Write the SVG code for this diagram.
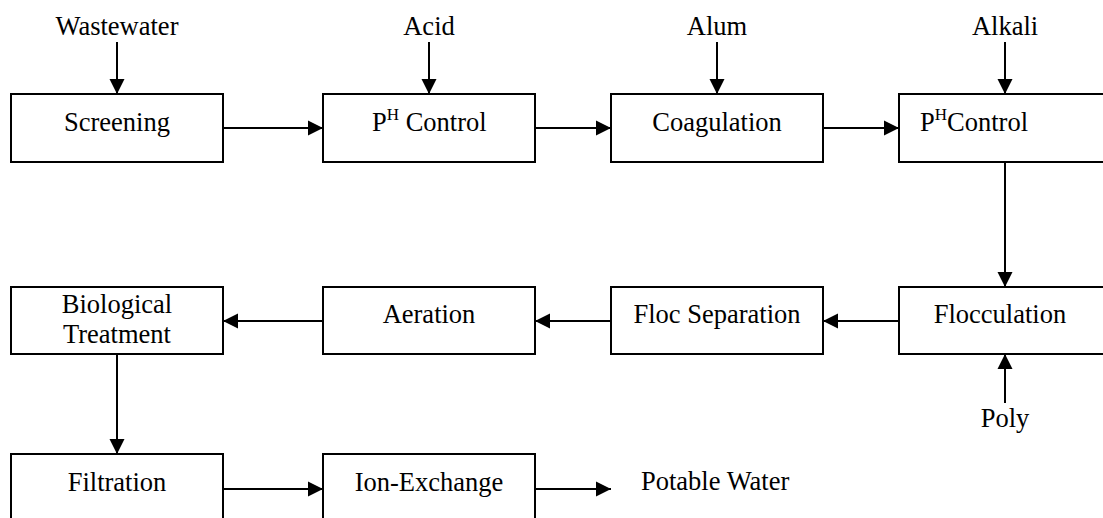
<svg xmlns="http://www.w3.org/2000/svg" width="1103" height="518" viewBox="0 0 1103 518" font-family="'Liberation Serif', 'Times New Roman', 'DejaVu Serif', serif">
<style>
.box{fill:#fff;stroke:#000;stroke-width:2}
.t{font-family:'Liberation Serif','Times New Roman','DejaVu Serif',serif;font-size:26.5px;fill:#000;text-anchor:middle}
.s{text-anchor:start}
.sup{font-size:17px}
.c{stroke:#000;stroke-width:2;fill:none;marker-end:url(#ah)}
</style>
<defs>
<marker id="ah" markerUnits="userSpaceOnUse" markerWidth="16" markerHeight="16" refX="15" refY="8" orient="auto">
<path d="M0,0.5 L15,8 L0,15.5 z" fill="#000"/>
</marker>
</defs>
<rect width="1103" height="518" fill="#fff"/>
<g id="connectors">
<line class="c" x1="117" y1="42" x2="117" y2="94"/>
<line class="c" x1="429" y1="42" x2="429" y2="94"/>
<line class="c" x1="717" y1="42" x2="717" y2="94"/>
<line class="c" x1="1005" y1="42" x2="1005" y2="94"/>
<line class="c" x1="223" y1="128" x2="323" y2="128"/>
<line class="c" x1="535" y1="128" x2="611" y2="128"/>
<line class="c" x1="823" y1="128" x2="899" y2="128"/>
<line class="c" x1="1005" y1="162" x2="1005" y2="287"/>
<line class="c" x1="899" y1="321" x2="823" y2="321"/>
<line class="c" x1="611" y1="321" x2="535" y2="321"/>
<line class="c" x1="323" y1="321" x2="223" y2="321"/>
<line class="c" x1="1005" y1="403" x2="1005" y2="354"/>
<line class="c" x1="117" y1="354" x2="117" y2="454"/>
<line class="c" x1="223" y1="489" x2="323" y2="489"/>
<line class="c" x1="535" y1="489" x2="611" y2="489"/>
</g>
<g id="labels">
<text class="t" x="117" y="35">Wastewater</text>
<text class="t" x="429" y="35">Acid</text>
<text class="t" x="717" y="35">Alum</text>
<text class="t" x="1005" y="35">Alkali</text>
<text class="t" x="1005" y="427">Poly</text>
<text class="t s" x="641" y="490">Potable Water</text>
</g>
<g id="screening"><rect class="box" x="11" y="94" width="212" height="68"/><text class="t" x="117" y="131">Screening</text></g>
<g id="ph-control-1"><rect class="box" x="323" y="94" width="212" height="68"/><text class="t s" x="372" y="131">P<tspan class="sup" dy="-11">H</tspan><tspan dy="11"> Control</tspan></text></g>
<g id="coagulation"><rect class="box" x="611" y="94" width="212" height="68"/><text class="t" x="717" y="131">Coagulation</text></g>
<g id="ph-control-2"><rect class="box" x="899" y="94" width="212" height="68"/><text class="t s" x="920" y="131">P<tspan class="sup" dy="-11">H</tspan><tspan dy="11">Control</tspan></text></g>
<g id="biological-treatment"><rect class="box" x="11" y="287" width="212" height="67"/><text class="t" x="117" y="313">Biological</text><text class="t" x="117" y="343">Treatment</text></g>
<g id="aeration"><rect class="box" x="323" y="287" width="212" height="67"/><text class="t" x="429" y="323">Aeration</text></g>
<g id="floc-separation"><rect class="box" x="611" y="287" width="212" height="67"/><text class="t" x="717" y="323">Floc Separation</text></g>
<g id="flocculation"><rect class="box" x="899" y="287" width="212" height="67"/><text class="t" x="1000" y="323">Flocculation</text></g>
<g id="filtration"><rect class="box" x="11" y="454" width="212" height="68"/><text class="t" x="117" y="491">Filtration</text></g>
<g id="ion-exchange"><rect class="box" x="323" y="454" width="212" height="68"/><text class="t" x="429" y="491">Ion-Exchange</text></g>
</svg>
